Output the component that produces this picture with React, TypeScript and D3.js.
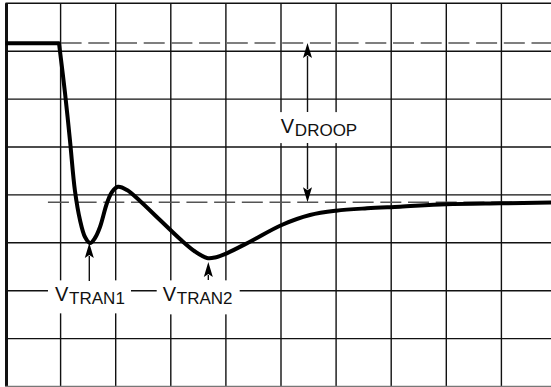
import React from "react";
import * as d3 from "d3";

// Waveform (time in divisions, voltage in divisions)
const flatTime = [0, 0.971];
const flatVolt = [7.165, 7.165];
const timeDiv = [0.971, 1.08, 1.171, 1.261, 1.352, 1.443, 1.534, 1.624, 1.715, 1.842, 1.933, 2.042, 2.205, 2.441, 2.804, 3.167, 3.439, 3.657, 3.802, 4.015, 4.437, 5.013, 5.526, 6.0, 6.561, 7.16, 7.995, 8.975, 10.0];
const voltDiv = [7.165, 6.127, 5.125, 4.081, 3.476, 3.121, 2.996, 3.1, 3.33, 3.831, 4.061, 4.17, 4.102, 3.873, 3.476, 3.079, 2.818, 2.683, 2.693, 2.781, 3.023, 3.372, 3.58, 3.67, 3.72, 3.754, 3.804, 3.825, 3.841];

// Reference levels
const refLevels = [7.17, 3.846];
const refStarts = [1.0, 0.77];

// Grid
const xDivisions = d3.range(0, 11);
const yDivisions = d3.range(0, 9);

// Annotations
const labelMain = ["V", "V", "V"];
const labelSub = ["DROOP", "TRAN1", "TRAN2"];
const labelX = [4.995, 0.898, 2.853];
const labelY = [5.29, 1.788, 1.788];

const arrowX = [5.481, 5.481, 1.521, 3.681];
const arrowFrom = [5.731, 5.084, 2.203, 2.223];
const arrowTo = [7.17, 3.846, 2.996, 2.6];

const W = 551;
const H = 387;

export default function App() {
  const x = d3.scaleLinear().domain([0, 10]).range([5.5, 556.5]);
  const y = d3.scaleLinear().domain([0, 8]).range([386.5, 3.3]);

  const flatPts: [number, number][] = flatTime.map((t, i) => [t, flatVolt[i]]);
  const pts: [number, number][] = timeDiv.map((t, i) => [t, voltDiv[i]]);
  const smooth = d3
    .line<[number, number]>()
    .x((d) => x(d[0]))
    .y((d) => y(d[1]))
    .curve(d3.curveCatmullRom.alpha(0.5));
  const straight = d3
    .line<[number, number]>()
    .x((d) => x(d[0]))
    .y((d) => y(d[1]));
  const smoothD = smooth(pts) || "";
  const pathD = (straight(flatPts) || "") + "L" + smoothD.slice(1);

  // white boxes behind labels (in pixels relative to label anchor)
  const boxes = [
    { x0: x(labelX[0]) - 10, x1: x(labelX[0]) + 85, y0: y(labelY[0]) - 21, y1: y(labelY[0]) + 10 },
    { x0: x(labelX[1]) - 7, x1: x(labelX[1]) + 76, y0: y(labelY[1]) - 20.5, y1: y(labelY[1]) + 12.5 },
    { x0: x(labelX[2]) - 6, x1: x(labelX[2]) + 77, y0: y(labelY[2]) - 20.5, y1: y(labelY[2]) + 13.5 },
  ];

  return (
    <svg
      width={W}
      height={H}
      style={{ position: "absolute", left: 0, top: 0, background: "#fff" }}
    >
      <rect x={0} y={0} width={W} height={H} fill="#fff" />
      {/* grid */}
      {xDivisions.map((d) => (
        <line
          key={"vx" + d}
          x1={d === 0 ? x(d) + 1 : x(d)}
          x2={d === 0 ? x(d) + 1 : x(d)}
          y1={y(8)}
          y2={y(0)}
          stroke="#111"
          strokeWidth={d === 0 ? 3 : 1.4}
        />
      ))}
      {yDivisions.map((d) => (
        <line
          key={"hy" + d}
          x1={x(0)}
          x2={W}
          y1={y(d)}
          y2={y(d)}
          stroke={d === 0 ? "#777" : "#111"}
          strokeWidth={1.4}
        />
      ))}
      {/* dashed reference levels */}
      {refLevels.map((v, i) => (
        <line
          key={"ref" + i}
          x1={x(refStarts[i])}
          x2={W}
          y1={y(v)}
          y2={y(v)}
          stroke="#555"
          strokeWidth={1.5}
          strokeDasharray="21 6.7"
        />
      ))}
      {/* waveform */}
      <path
        d={pathD}
        fill="none"
        stroke="#000"
        strokeWidth={4}
        strokeLinejoin="round"
      />
      {/* label boxes */}
      {boxes.map((b, i) => (
        <rect key={"b" + i} x={b.x0} y={b.y0} width={b.x1 - b.x0} height={b.y1 - b.y0} fill="#fff" />
      ))}
      {/* labels */}
      {labelMain.map((m, i) => (
        <text
          key={"l" + i}
          x={x(labelX[i])}
          y={y(labelY[i])}
          fontFamily="'Liberation Sans', Arial, sans-serif"
          fontSize={20}
          fill="#111"
        >
          {m}
          <tspan fontSize={17} dx={0.8} dy={3}>
            {labelSub[i]}
          </tspan>
        </text>
      ))}
      {/* arrows */}
      {arrowX.map((ax, i) => {
        const px = x(ax);
        const y0 = y(arrowFrom[i]);
        const y1 = y(arrowTo[i]);
        const dir = y1 > y0 ? 1 : -1;
        const headLen = 15;
        const headW = 4.5;
        const base = y1 - dir * headLen;
        return (
          <g key={"a" + i}>
            <line x1={px} x2={px} y1={y0} y2={base + dir * 2} stroke="#111" strokeWidth={1.4} />
            <path
              d={`M${px},${y1} L${px - headW},${base} L${px},${base + dir * 3} L${px + headW},${base} Z`}
              fill="#000"
            />
          </g>
        );
      })}
    </svg>
  );
}
